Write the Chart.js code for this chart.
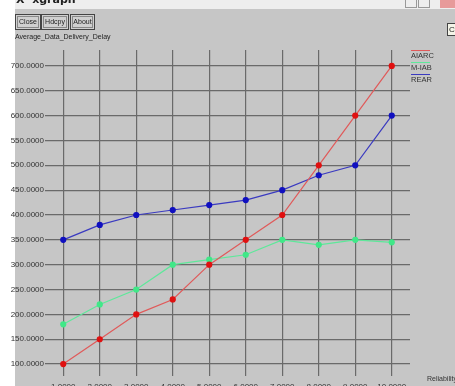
<!DOCTYPE html>
<html>
<head>
<meta charset="utf-8">
<script src="https://cdn.jsdelivr.net/npm/chart.js@4"></script>
<style>
  html, body { margin: 0; padding: 0; background: #fff; overflow: hidden; }
  #wrap { width: 455px; height: 400px; }
</style>
</head>
<body>
<div id="wrap"><canvas id="delayChart" width="455" height="400"></canvas></div>
<script>
// values
const reliability = [1, 2, 3, 4, 5, 6, 7, 8, 9, 10];
const aiarc = [100, 150, 200, 230, 300, 350, 400, 500, 600, 700];
const miab  = [180, 220, 250, 300, 310, 320, 350, 340, 350, 345];
const rear  = [350, 380, 400, 410, 420, 430, 450, 480, 500, 600];
const yTicks = [100, 150, 200, 250, 300, 350, 400, 450, 500, 550, 600, 650, 700];
const seriesNames = ['AIARC', 'M-IAB', 'REAR'];
const lineColors = ['#e05a5a', '#5ee89a', '#3a3ac0'];
const dotColors = ['#e01010', '#40e888', '#1010c0'];

const toPoints = arr => arr.map((v, i) => ({x: reliability[i], y: v}));

const windowChrome = {
	id: 'windowChrome',
	beforeDraw(chart) {
		const c = chart.ctx;
		c.save();
		c.fillStyle = '#ffffff';
		c.fillRect(0, 0, chart.width, chart.height);
		c.fillStyle = '#c6c6c6';
		c.fillRect(15, 9, chart.width - 15, chart.height);
		// title bar
		c.fillStyle = '#eeeeee';
		c.fillRect(15, 0, chart.width - 15, 9);
		c.fillStyle = '#222';
		c.font = 'bold 11px "DejaVu Sans"';
		c.textBaseline = 'bottom';
		c.fillText('X  xgraph', 16, 6);
		// window buttons
		c.strokeStyle = '#999';
		c.strokeRect(405.5, -3.5, 11, 11);
		c.strokeRect(418.5, -3.5, 11, 11);
		c.fillStyle = '#e79a9a';
		c.fillRect(440, 0, 15, 8);
		// xgraph buttons
		c.font = '7px "Liberation Sans"';
		c.textBaseline = 'middle';
		[['Close', 15, 25], ['Hdcpy', 41, 27], ['About', 70, 24]].forEach(([t, x, w]) => {
			c.fillStyle = '#d0d0d0';
			c.fillRect(x, 14, w, 15);
			c.strokeStyle = '#444';
			c.strokeRect(x + 0.5, 14.5, w, 15);
			c.strokeStyle = '#888';
			c.strokeRect(x + 2.5, 16.5, w - 4, 11);
			c.fillStyle = '#222';
			c.textAlign = 'center';
			c.fillText(t, x + w / 2 + 0.5, 22);
		});
		c.textAlign = 'left';
		c.fillStyle = '#f4f4e8';
		c.fillRect(447, 23, 8, 13);
		c.strokeStyle = '#444';
		c.strokeRect(447.5, 23.5, 9, 12);
		c.fillStyle = '#222';
		c.font = '8px "Liberation Sans"';
		c.fillText('C', 449, 30);
		c.font = '7px "Liberation Sans"';
		c.fillText('Average_Data_Delivery_Delay', 15, 37);
		c.restore();
	},
	afterDraw(chart) {
		const c = chart.ctx;
		c.save();
		c.font = '7.5px "Liberation Sans"';
		c.textBaseline = 'middle';
		chart.data.datasets.forEach((ds, i) => {
			const y = 56 + i * 12;
			c.strokeStyle = ds.borderColor;
			c.lineWidth = 1;
			c.beginPath();
			c.moveTo(411, y - 5.5);
			c.lineTo(430, y - 5.5);
			c.stroke();
			c.fillStyle = '#333';
			c.fillText(ds.label, 411, y);
		});
		c.font = '7px "Liberation Sans"';
		c.fillText('Reliability', 427, 379);
		c.restore();
	}
};

new Chart(document.getElementById('delayChart'), {
	type: 'line',
	data: {
		datasets: [aiarc, miab, rear].map((arr, i) => ({
			label: seriesNames[i],
			data: toPoints(arr),
			borderColor: lineColors[i],
			backgroundColor: dotColors[i],
			pointBackgroundColor: dotColors[i],
			pointBorderColor: dotColors[i],
			borderWidth: 1.2,
			pointRadius: 2.5,
			tension: 0
		}))
	},
	options: {
		responsive: false,
		animation: false,
		layout: {padding: {top: 50, right: 45, left: 0, bottom: 0}},
		plugins: {legend: {display: false}, tooltip: {enabled: false}},
		scales: {
			x: {
				type: 'linear',
				min: 0.5,
				max: 10.5,
				afterBuildTicks: s => { s.ticks = reliability.map(v => ({value: v})); },
				afterFit: s => { s.height = 24; },
				grid: {color: '#6a6a6a', lineWidth: 1.2, drawTicks: false},
				border: {display: false},
				ticks: {
					padding: 6,
					color: '#333',
					font: {family: 'Liberation Sans', size: 8},
					maxRotation: 0,
					callback: v => Number(v).toFixed(4)
				}
			},
			y: {
				min: 76,
				max: 732,
				afterBuildTicks: s => { s.ticks = yTicks.map(v => ({value: v})); },
				afterFit: s => { s.width = 45; },
				grid: {color: '#6a6a6a', lineWidth: 1.2, drawTicks: false},
				border: {display: false},
				ticks: {
					padding: 1,
					color: '#333',
					font: {family: 'Liberation Sans', size: 8},
					callback: v => Number(v).toFixed(4)
				}
			}
		}
	},
	plugins: [windowChrome]
});
</script>
</body>
</html>
